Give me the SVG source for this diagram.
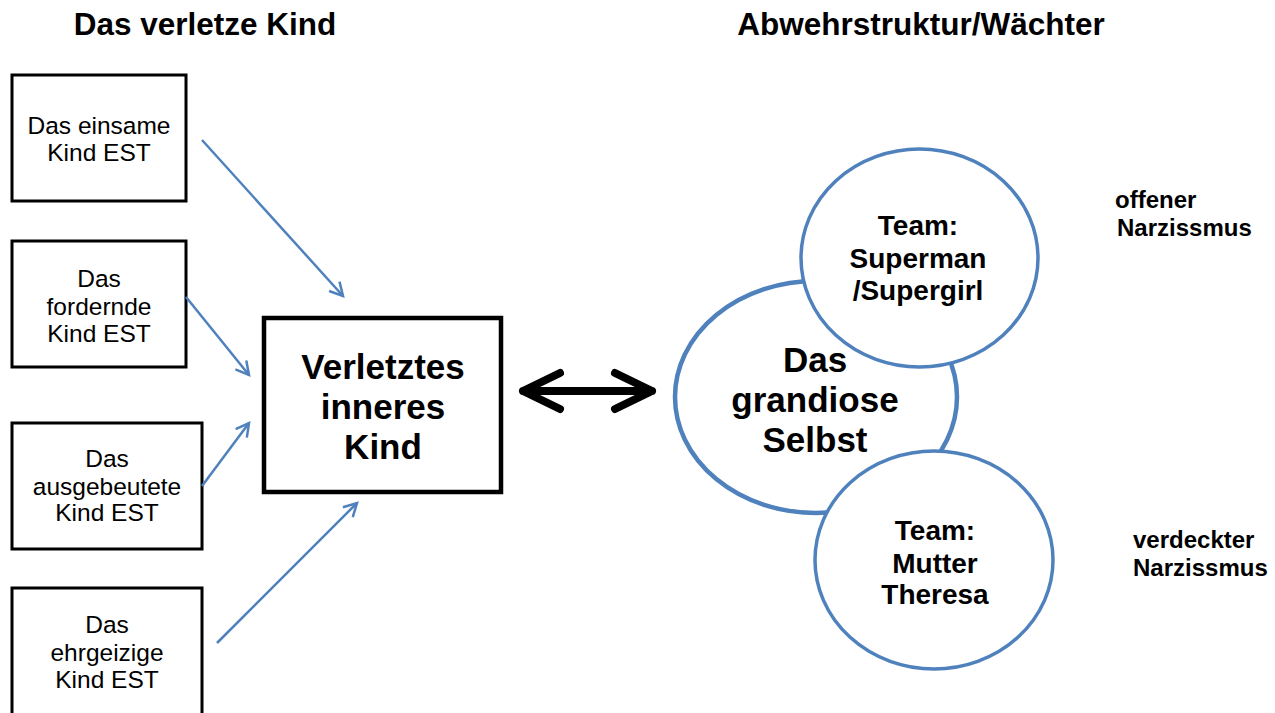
<svg xmlns="http://www.w3.org/2000/svg" width="1275" height="713" viewBox="0 0 1275 713">
<style>
.box{fill:#fff;stroke:#000;stroke-width:3}
.main{fill:#fff;stroke:#000;stroke-width:4.5}
.blue{fill:#fff;stroke:#4f81bd;stroke-width:3.5}
.big{fill:#fff;stroke:#4f81bd;stroke-width:4.5}
.t{font-family:"Liberation Sans",Arial,sans-serif;fill:#000;text-anchor:middle}
.s{font-size:24.5px}
.b{font-weight:bold}
.h{font-size:31.5px;font-weight:bold}
.l{font-family:"Liberation Sans",Arial,sans-serif;font-size:24px;font-weight:bold;fill:#000}
.arr{stroke:#4f81bd;stroke-width:2.5;fill:none}
.dbl{stroke:#000;stroke-width:8;fill:none;stroke-linecap:round;stroke-linejoin:round}
</style>
<defs>
<marker id="ah" markerWidth="18" markerHeight="18" refX="14" refY="8" orient="auto" markerUnits="userSpaceOnUse">
<path d="M1,1 L14,8 L1,15" fill="none" stroke="#4f81bd" stroke-width="2.5"/>
</marker>
</defs>
<rect width="1275" height="713" fill="#fff"/>
<g id="headers">
<text class="t h" x="205" y="35">Das verletze Kind</text>
<text class="t h" x="921" y="35">Abwehrstruktur/Wächter</text>
</g>
<g id="n1"><rect class="box" x="12" y="75" width="174" height="126"/>
<text class="t s" x="99" y="134">Das einsame</text><text class="t s" x="99" y="161">Kind EST</text></g>
<g id="n2"><rect class="box" x="12" y="241" width="174" height="126"/>
<text class="t s" x="99" y="287">Das</text><text class="t s" x="99" y="315">fordernde</text><text class="t s" x="99" y="342">Kind EST</text></g>
<g id="n3"><rect class="box" x="12" y="423" width="190" height="126"/>
<text class="t s" x="107" y="467">Das</text><text class="t s" x="107" y="495">ausgebeutete</text><text class="t s" x="107" y="521">Kind EST</text></g>
<g id="n4"><rect class="box" x="12" y="588" width="190" height="135"/>
<text class="t s" x="107" y="633">Das</text><text class="t s" x="107" y="661">ehrgeizige</text><text class="t s" x="107" y="688">Kind EST</text></g>
<g id="center"><rect class="main" x="264" y="318" width="237" height="174"/>
<text class="t b" font-size="35" x="383" y="379">Verletztes</text>
<text class="t b" font-size="35" x="383" y="419">inneres</text>
<text class="t b" font-size="35" x="383" y="459">Kind</text></g>
<g id="selbst"><ellipse class="big" cx="816" cy="397" rx="141" ry="116"/>
<text class="t b" font-size="35" x="815" y="372">Das</text>
<text class="t b" font-size="35" x="815" y="412">grandiose</text>
<text class="t b" font-size="35" x="815" y="452">Selbst</text></g>
<g id="superman"><ellipse class="blue" cx="919.5" cy="258" rx="118.5" ry="109"/>
<text class="t b" font-size="28" x="918" y="235">Team:</text>
<text class="t b" font-size="28" x="918" y="268">Superman</text>
<text class="t b" font-size="28" x="918" y="300">/Supergirl</text></g>
<g id="theresa"><ellipse class="blue" cx="934" cy="560" rx="119" ry="109"/>
<text class="t b" font-size="28" x="935" y="540">Team:</text>
<text class="t b" font-size="28" x="935" y="573">Mutter</text>
<text class="t b" font-size="28" x="935" y="604">Theresa</text></g>
<g id="labels">
<text class="l" x="1115" y="208">offener</text>
<text class="l" x="1117" y="236">Narzissmus</text>
<text class="l" x="1133" y="548">verdeckter</text>
<text class="l" x="1133" y="576">Narzissmus</text>
</g>
<g id="connectors">
<line class="arr" x1="202" y1="140" x2="343" y2="296" marker-end="url(#ah)"/>
<line class="arr" x1="186" y1="297" x2="249" y2="375" marker-end="url(#ah)"/>
<line class="arr" x1="202" y1="486" x2="249" y2="423" marker-end="url(#ah)"/>
<line class="arr" x1="217" y1="643" x2="357" y2="503" marker-end="url(#ah)"/>
<path class="dbl" d="M523,391 L652,391 M560,373 L523,391 L560,409 M615,373 L652,391 L615,409"/>
</g>
</svg>
